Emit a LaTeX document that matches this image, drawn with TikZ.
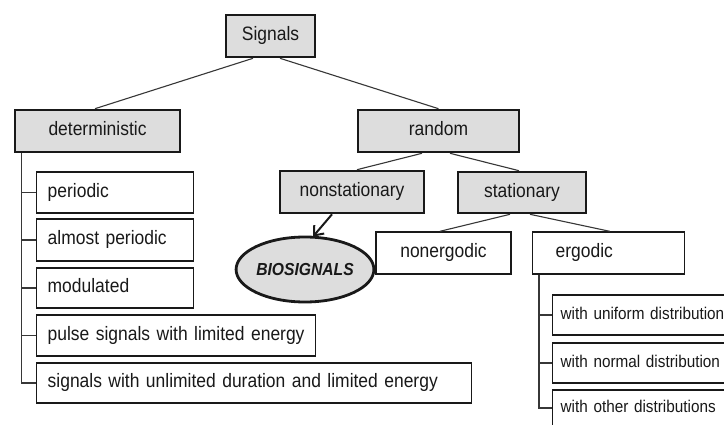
\documentclass[tikz,border=0pt]{standalone}
\usepackage{fontspec}
\setmainfont{Liberation Sans}[FakeStretch=0.9]
\usetikzlibrary{arrows.meta,calc,shapes.geometric}
\definecolor{boxgray}{RGB}{221,221,221}
\definecolor{ink}{RGB}{25,25,25}
\definecolor{wire}{RGB}{55,55,55}
\tikzset{
  base/.style={draw=ink, text=ink, inner sep=0pt, font=\fontsize{19.4}{22}\selectfont,
    text height=14pt, text depth=4pt},
  hdr/.style={base, fill=boxgray, line width=2.6pt},
  leaf/.style={base, fill=white, line width=1.4pt, align=left, inner xsep=11pt},
  dist/.style={leaf, font=\fontsize{17}{20}\selectfont, text height=12.5pt, text depth=3.5pt, inner xsep=8pt},
  wirel/.style={draw=wire, line width=1.1pt},
  bio/.style={ellipse, draw=ink, fill=boxgray, line width=2.8pt, text=ink, inner sep=0pt,
    font=\fontsize{17.4}{20}\bfseries\itshape\selectfont}
}
\begin{document}
\begin{tikzpicture}[x=1pt,y=-1pt]
\useasboundingbox (0,0) rectangle (724,425);
\clip (0,0) rectangle (724,425);
\fill[white] (0,0) rectangle (724,425);
% header boxes
\node[hdr, minimum width=89pt, minimum height=42pt] (sig) at (270.5,36) {Signals};
\node[hdr, minimum width=165pt, minimum height=42pt] (det) at (97.5,131) {deterministic};
\node[hdr, minimum width=161pt, minimum height=42pt] (rnd) at (438.5,131) {random};
\node[hdr, minimum width=144pt, minimum height=42pt] (nst) at (352,192) {nonstationary};
\node[hdr, minimum width=128pt, minimum height=41pt] (sta) at (522,192.5) {stationary};
\node[bio, minimum width=114pt, minimum height=65pt] (bio) at (305,269.5) {BIOSIGNALS};
% random sub
\node[leaf, minimum width=135pt, minimum height=42pt, align=center, inner xsep=0pt] (nerg) at (443.5,253) {nonergodic};
\node[leaf, anchor=west, text width=106pt, minimum height=42pt, inner xsep=23pt, minimum width=129pt] (erg) at (532,253) {ergodic};
% deterministic leaves
\node[leaf, anchor=west, text width=135pt, minimum height=41pt] (per) at (36,192.5) {periodic};
\node[leaf, anchor=west, text width=135pt, minimum height=42pt] (aper) at (36,240) {almost periodic};
\node[leaf, anchor=west, text width=135pt, minimum height=40pt] (mod) at (36,288) {modulated};
\node[leaf, anchor=west, text width=257pt, minimum height=41pt] (pul) at (36,335.5) {pulse signals with limited energy};
\node[leaf, anchor=west, text width=413pt, minimum height=40pt] (unl) at (36,383) {signals with unlimited duration and limited energy};
% ergodic leaves
\node[dist, anchor=west, text width=200pt, minimum height=40pt] (uni) at (552,315) {with uniform distribution};
\node[dist, anchor=west, text width=200pt, minimum height=40pt] (nor) at (552,363) {with normal distribution};
\node[dist, anchor=west, text width=200pt, minimum height=36pt] (oth) at (552,408) {with other distributions};
% connectors
\draw[wirel] ([xshift=-17.5pt]sig.south) -- ([xshift=-2.5pt]det.north);
\draw[wirel] ([xshift=9.5pt]sig.south) -- (rnd.north);
\draw[wirel] ([xshift=-16.5pt]rnd.south) -- ([xshift=5pt]nst.north);
\draw[wirel] ([xshift=11.5pt]rnd.south) -- ([xshift=-3pt]sta.north);
\draw[wirel] ([xshift=-12pt]sta.south) -- ([xshift=-3.5pt]nerg.north);
\draw[wirel] ([xshift=8pt]sta.south) -- ([xshift=1pt]erg.north);
\draw[draw=ink, line width=2pt, -{Straight Barb[length=8pt,width=13pt,line width=2pt]}] ([xshift=-20pt]nst.south) -- ([xshift=8pt,yshift=-1pt]bio.north);
% deterministic trunk
\coordinate (tl) at ([xshift=8pt]det.south west);
\draw[wirel] (tl) |- (unl.west);
\foreach \b in {per,aper,mod,pul} \draw[wirel] (tl |- \b.west) -- (\b.west);
% ergodic trunk
\coordinate (tr) at ([xshift=7pt]erg.south west);
\draw[wirel] (tr) |- (oth.west);
\foreach \b in {uni,nor} \draw[wirel] (tr |- \b.west) -- (\b.west);
\end{tikzpicture}
\end{document}
